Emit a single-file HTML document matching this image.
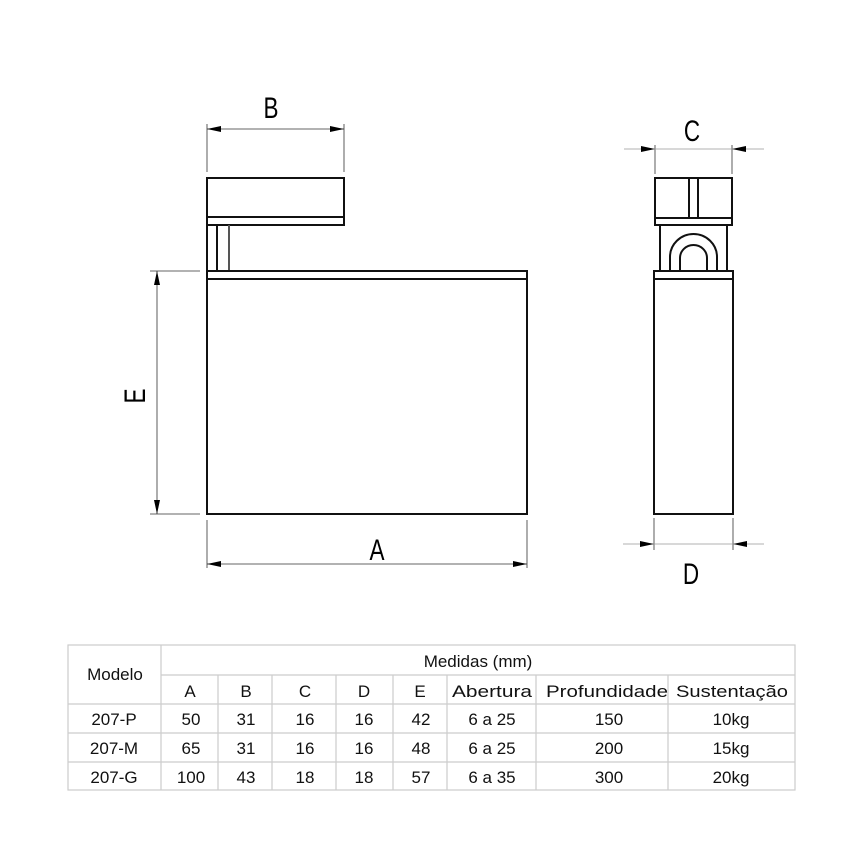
<!DOCTYPE html>
<html><head><meta charset="utf-8"><style>html,body{margin:0;padding:0;background:#fff}svg{display:block}</style></head><body>
<svg width="850" height="850" viewBox="0 0 850 850" xmlns="http://www.w3.org/2000/svg" font-family="Liberation Sans, sans-serif">
<g fill="none" stroke="#111" stroke-width="2">
<rect x="207" y="178" width="137" height="47"/>
<line x1="207" y1="217" x2="344" y2="217"/>
<line x1="207" y1="225" x2="207" y2="271"/>
<line x1="217" y1="225" x2="217" y2="271"/>
<line x1="229" y1="225" x2="229" y2="271" stroke="#555"/>
<rect x="207" y="271" width="320" height="8"/>
<rect x="207" y="279" width="320" height="235"/>
<rect x="655" y="178" width="77" height="47"/>
<line x1="655" y1="218" x2="732" y2="218"/>
<line x1="689" y1="178" x2="689" y2="218"/>
<line x1="698" y1="178" x2="698" y2="218"/>
<line x1="660" y1="225" x2="660" y2="271"/>
<line x1="727" y1="225" x2="727" y2="271"/>
<path d="M670,271 V257 A23.5,23 0 0 1 717,257 V271"/>
<path d="M680,271 V258 A13.5,13 0 0 1 707,258 V271"/>
<rect x="654" y="271" width="79" height="8"/>
<rect x="654" y="279" width="79" height="235"/>
</g>
<g stroke="#333" stroke-width="0.8" fill="none">
<line x1="207" y1="124" x2="207" y2="172"/><line x1="344" y1="124" x2="344" y2="172"/>
<line x1="207" y1="129" x2="344" y2="129"/>
<line x1="150" y1="271" x2="200" y2="271"/><line x1="150" y1="514" x2="200" y2="514"/>
<line x1="157" y1="271" x2="157" y2="514"/>
<line x1="207" y1="520" x2="207" y2="568"/><line x1="527" y1="520" x2="527" y2="568"/>
<line x1="207" y1="564" x2="527" y2="564"/>
<line x1="655" y1="145" x2="655" y2="174"/><line x1="732" y1="145" x2="732" y2="174"/>
<line x1="624" y1="149" x2="764" y2="149" stroke="#999"/>
<line x1="654" y1="518" x2="654" y2="550"/><line x1="733" y1="518" x2="733" y2="550"/>
<line x1="623" y1="544" x2="764" y2="544" stroke="#999"/>
</g>
<g fill="#000">
<path d="M207,129 l14,-3 v6z"/><path d="M344,129 l-14,-3 v6z"/>
<path d="M157,271 l-3,14 h6z"/><path d="M157,514 l-3,-14 h6z"/>
<path d="M207,564 l14,-3 v6z"/><path d="M527,564 l-14,-3 v6z"/>
<path d="M655,149 l-14,-3 v6z"/><path d="M732,149 l14,-3 v6z"/>
<path d="M654,544 l-14,-3 v6z"/><path d="M733,544 l14,-3 v6z"/>
</g>
<g font-size="30" text-anchor="middle" fill="#000">
<text x="271" y="118" transform="translate(271 0) scale(0.75 1) translate(-271 0)">B</text>
<text x="377" y="560" transform="translate(377 0) scale(0.75 1) translate(-377 0)">A</text>
<text x="692" y="141" transform="translate(692 0) scale(0.75 1) translate(-692 0)">C</text>
<text x="691" y="584" transform="translate(691 0) scale(0.75 1) translate(-691 0)">D</text>
<text transform="translate(145 396) rotate(-90) scale(0.75 1)" x="0" y="0">E</text>
</g>
<g stroke="#ccc" stroke-width="1.2" fill="none">
<rect x="68" y="645" width="727" height="145"/>
<line x1="161" y1="675" x2="795" y2="675"/>
<line x1="68" y1="704" x2="795" y2="704"/>
<line x1="68" y1="733" x2="795" y2="733"/>
<line x1="68" y1="762" x2="795" y2="762"/>
<line x1="161" y1="645" x2="161" y2="790"/>
<line x1="218" y1="675" x2="218" y2="790"/>
<line x1="272" y1="675" x2="272" y2="790"/>
<line x1="336" y1="675" x2="336" y2="790"/>
<line x1="393" y1="675" x2="393" y2="790"/>
<line x1="447" y1="675" x2="447" y2="790"/>
<line x1="536" y1="675" x2="536" y2="790"/>
<line x1="668" y1="675" x2="668" y2="790"/>
</g>
<g font-size="17" text-anchor="middle" fill="#111">
<text x="115" y="680">Modelo</text>
<text x="478" y="667">Medidas (mm)</text>
<text x="190" y="697">A</text><text x="246" y="697">B</text><text x="305" y="697">C</text><text x="364" y="697">D</text><text x="420" y="697">E</text>
<text x="492" y="697" textLength="80" lengthAdjust="spacingAndGlyphs">Abertura</text>
<text x="607" y="697" textLength="122" lengthAdjust="spacingAndGlyphs">Profundidade</text>
<text x="732" y="697" textLength="112" lengthAdjust="spacingAndGlyphs">Sustentação</text>
<text x="114" y="725">207-P</text><text x="191" y="725">50</text><text x="246" y="725">31</text><text x="305" y="725">16</text><text x="364" y="725">16</text><text x="421" y="725">42</text><text x="492" y="725">6 a 25</text><text x="609" y="725">150</text><text x="731" y="725">10kg</text>
<text x="114" y="754">207-M</text><text x="191" y="754">65</text><text x="246" y="754">31</text><text x="305" y="754">16</text><text x="364" y="754">16</text><text x="421" y="754">48</text><text x="492" y="754">6 a 25</text><text x="609" y="754">200</text><text x="731" y="754">15kg</text>
<text x="114" y="783">207-G</text><text x="191" y="783">100</text><text x="246" y="783">43</text><text x="305" y="783">18</text><text x="364" y="783">18</text><text x="421" y="783">57</text><text x="492" y="783">6 a 35</text><text x="609" y="783">300</text><text x="731" y="783">20kg</text>
</g>
</svg>
</body></html>
